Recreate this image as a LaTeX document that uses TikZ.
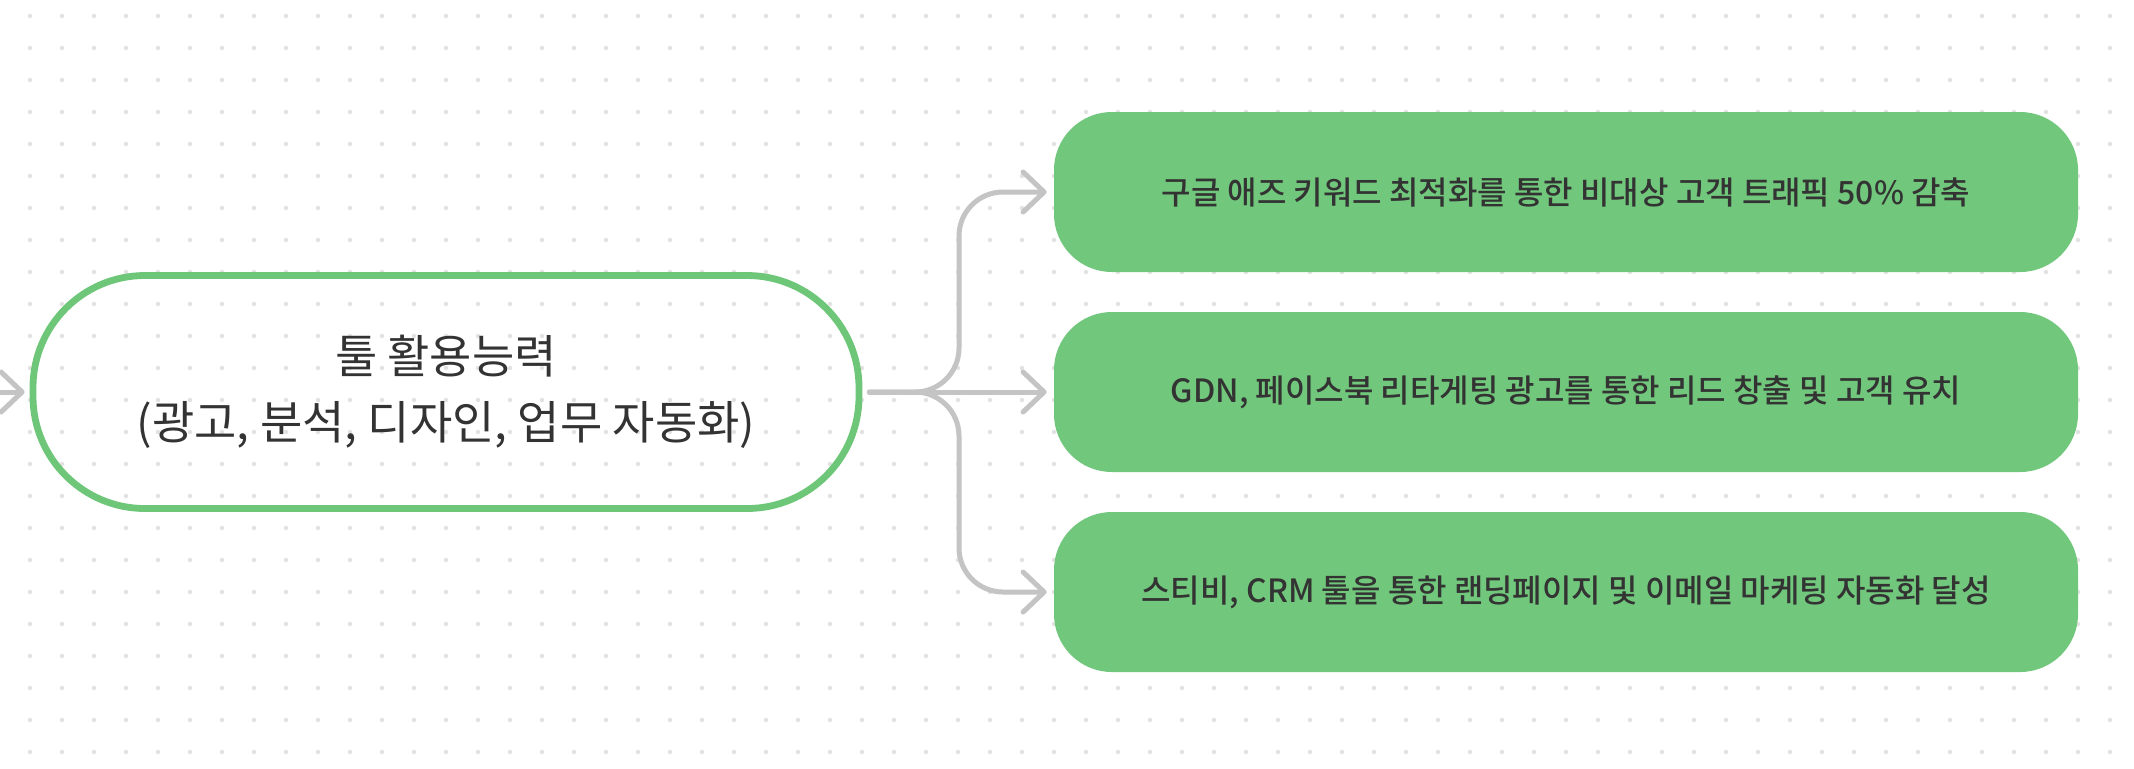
\documentclass[tikz,border=0pt]{standalone}
\usepackage{fontspec}
\setmainfont{Noto Sans CJK KR}[UprightFont={* Medium}]
\newfontfamily\krreg{Noto Sans CJK KR}
\usetikzlibrary{arrows.meta}
\definecolor{dotc}{HTML}{E2E2E2}
\definecolor{grn}{HTML}{71C77B}
\definecolor{grnb}{HTML}{6EC678}
\definecolor{conc}{HTML}{C4C4C4}
\definecolor{txt}{HTML}{333333}
\tikzset{
  mainbox/.style={draw=grnb, line width=3.4pt, rounded corners=56pt, minimum width=413pt, minimum height=116.5pt, align=center, text=txt, font=\krreg\fontsize{23pt}{33pt}\selectfont, inner sep=0pt},
  leafbox/.style={fill=grn, rounded corners=29pt, minimum width=512pt, minimum height=80pt, align=center, text=txt, font=\fontsize{16pt}{20pt}\selectfont, inner sep=0pt},
  conn/.style={draw=conc, line width=2.5pt, line cap=round, line join=round, -{Straight Barb[length=10.5pt,width=20pt,line cap=round,line join=round]}},
}
\begin{document}
\begin{tikzpicture}[x=0.5pt,y=-0.5pt]
\useasboundingbox (0,0) rectangle (2134,768);
\fill[white] (0,0) rectangle (2134,768);
\foreach \i in {0,...,65}{\foreach \j in {0,...,23}{\fill[dotc] (30+32*\i,16+32*\j) circle (1.1pt);}}
\node[mainbox] (main) at (446,392) {툴 활용능력\\(광고, 분석, 디자인, 업무 자동화)};
\node[leafbox] (b1) at (1566,192) {구글 애즈 키워드 최적화를 통한 비대상 고객 트래픽 50\% 감축};
\node[leafbox] (b2) at (1566,392) {GDN, 페이스북 리타게팅 광고를 통한 리드 창출 및 고객 유치};
\node[leafbox] (b3) at (1566,592) {스티비, CRM 툴을 통한 랜딩페이지 및 이메일 마케팅 자동화 달성};
\coordinate (inL) at (-20,392);
\coordinate (out) at ([xshift=3.5pt]main.east);
\coordinate (trunk) at (959,392);
\draw[conn, shorten >=2.5pt] (inL) -- (main.west);
\draw[conn, shorten >=3.5pt] (out) -- (b2.west);
\draw[conn, shorten >=3.5pt, rounded corners=22pt] (out) -- (trunk) |- (b1.west);
\draw[conn, shorten >=3.5pt, rounded corners=22pt] (out) -- (trunk) |- (b3.west);
\end{tikzpicture}
\end{document}
